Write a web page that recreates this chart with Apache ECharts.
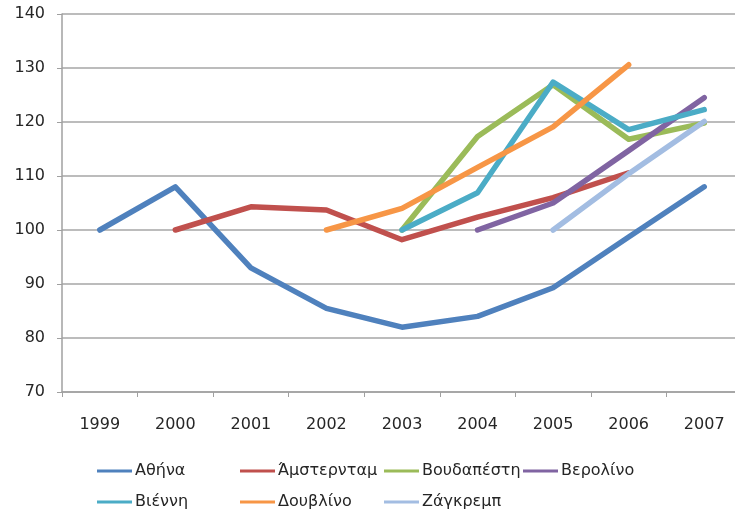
<!DOCTYPE html>
<html lang="el">
<head>
    <meta charset="UTF-8">
    <title>Δείκτης τιμών ανά πόλη</title>
    <script src="https://cdn.jsdelivr.net/npm/echarts@6/dist/echarts.min.js"></script>
    <style>
        body { margin: 0; background: #fff; overflow: hidden; }
        /* plot area runs a little past the right edge of the page, like the original */
        #chart { width: 742px; height: 519px; }
    </style>
</head>
<body>
    <div id="chart"></div>

    <script>
        var years = ['1999', '2000', '2001', '2002', '2003', '2004', '2005', '2006', '2007'];

        var athens    = [100, 108, 93, 85.5, 82, 84, 89.3, 98.7, 108];
        var amsterdam = [null, 100, 104.3, 103.7, 98.2, 102.4, 106, 110.6, null];
        var budapest  = [null, null, null, null, 100, 117.3, 126.9, 116.8, 119.8];
        var berlin    = [null, null, null, null, null, 100, 105, 114.7, 124.5];
        var vienna    = [null, null, null, null, 100, 106.9, 127.4, 118.6, 122.3];
        var dublin    = [null, null, null, 100, 104, 111.6, 119.1, 130.6, null];
        var zagreb    = [null, null, null, null, null, null, 100, 110.4, 120.1];

        var names  = ['Αθήνα', 'Άμστερνταμ', 'Βουδαπέστη', 'Βερολίνο', 'Βιέννη', 'Δουβλίνο', 'Ζάγκρεμπ'];
        var values = [athens, amsterdam, budapest, berlin, vienna, dublin, zagreb];
        var colors = ['#4f81bd', '#c0504d', '#9bbb59', '#8064a2', '#4bacc6', '#f79646', '#a3bde2'];

        var font = 'DejaVu Sans';
        var textColor = '#262626';

        var chart = echarts.init(document.getElementById('chart'));

        var series = names.map(function (name, i) {
            return {
                name: name,
                type: 'line',
                data: values[i],
                symbol: 'none',
                color: colors[i],
                lineStyle: { width: 5.5, cap: 'round', join: 'round' },
                animation: false
            };
        });

        // Excel-like legend: four columns, two rows
        function legendColumn(left, data) {
            return {
                left: left,
                top: 458,
                orient: 'vertical',
                itemGap: 15,
                itemWidth: 35,
                itemHeight: 3,
                icon: 'rect',
                data: data,
                textStyle: { fontFamily: font, fontSize: 16, color: textColor, padding: [0, 0, 0, -2] }
            };
        }

        var options = {
            color: colors,
            legend: [
                legendColumn(92, ['Αθήνα', 'Βιέννη']),
                legendColumn(235, ['Άμστερνταμ', 'Δουβλίνο']),
                legendColumn(379, ['Βουδαπέστη', 'Ζάγκρεμπ']),
                legendColumn(518, ['Βερολίνο'])
            ],
            grid: {
                left: 62,
                top: 14,
                right: 0,
                height: 378
            },
            xAxis: {
                type: 'category',
                data: years,
                boundaryGap: true,
                axisLine: { lineStyle: { color: '#a0a0a0', width: 1.5 } },
                axisTick: { show: true, length: 5, lineStyle: { color: '#a0a0a0' } },
                axisLabel: { margin: 25, fontFamily: font, fontSize: 16, color: textColor }
            },
            yAxis: {
                type: 'value',
                min: 70,
                max: 140,
                interval: 10,
                axisLine: { show: true, lineStyle: { color: '#a0a0a0', width: 1.5 } },
                axisTick: { show: true, length: 5, lineStyle: { color: '#a0a0a0' } },
                axisLabel: { margin: 17, fontFamily: font, fontSize: 16, color: textColor },
                splitLine: { lineStyle: { color: '#a6a6a6', width: 1.5 } }
            },
            series: series
        };

        chart.setOption(options);
    </script>
</body>
</html>
